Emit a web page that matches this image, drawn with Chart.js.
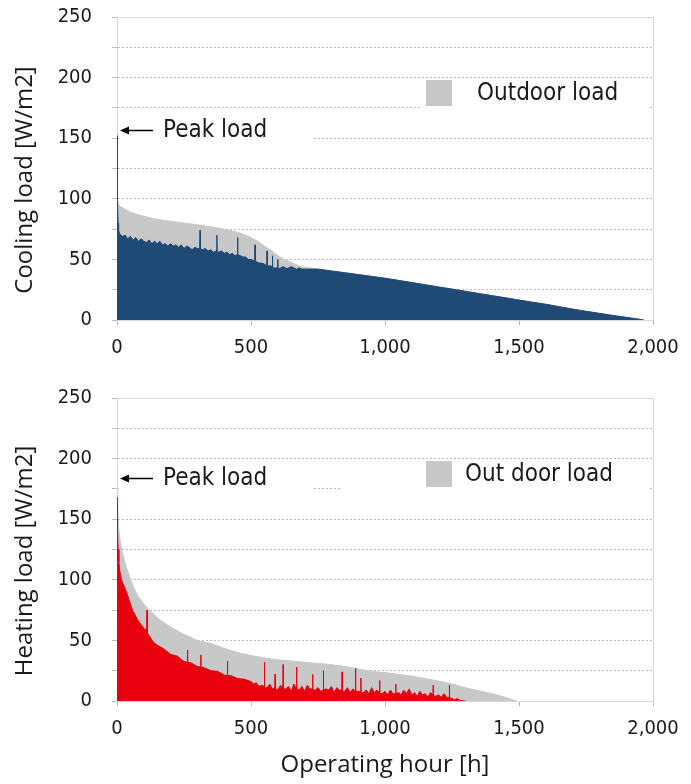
<!DOCTYPE html>
<html>
<head>
<meta charset="utf-8">
<script src="https://cdn.jsdelivr.net/npm/chart.js@4.4.1/dist/chart.umd.min.js"></script>
<style>
  html, body { margin: 0; padding: 0; background: #fff; }
  #wrap { position: relative; width: 691px; height: 784px; }
  .box { position: absolute; left: 0; width: 691px; }
</style>
</head>
<body>
<div id="wrap">
  <div class="box" style="top:0;height:370px"><canvas id="cooling" width="691" height="370"></canvas></div>
  <div class="box" style="top:370px;height:414px"><canvas id="heating" width="691" height="414"></canvas></div>
</div>
<script>
/* ===================== DATA ===================== */

const X_TICKS = [0, 500, 1000, 1500, 2000];
const Y_TICKS = [0, 50, 100, 150, 200, 250];

/* cooling: grey envelope = load incl. outdoor air, blue drawn over it */
const coolTotalHours = [0,1,3,5,10,25,50,75,100,150,200,250,300,350,400,450,480,500,525,550,575,600,625,650,675,700,
  750,800,850,900,950,1000,1050,1100,1150,1200,1250,1300,1350,1400,1450,1500,1550,1600,1650,1700,1750,1800,1850,1900,1950,1965];
const coolTotal = [152,130,100,96,94,92,89,87,85.5,83,81.5,80,78.5,77,75,72.5,70,68,65,61,57.5,53,50,47.5,45,43.5,
  42,40.5,39,37.5,36,34.5,32.7,30.9,29.1,27.3,25.5,23.7,21.9,20.1,18.3,16.5,14.7,13,11,9,7.2,5.5,3.8,2.2,0.6,0];

const coolLoadHours = [
  0,1,2,4,6,10,20,30,40,50,60,70,80,90,100,
  110,120,130,140,150,160,170,180,190,200,
  210,220,230,240,250,260,270,280,290,300,
  309,310,311,320,330,340,350,360,370,372,373,374,380,390,400,
  410,420,430,440,449,450,451,460,470,480,490,500,
  510,514,515,516,520,530,539,540,541,550,559,560,561,570,579,580,581,590,599,600,601,
  610,620,629,630,631,640,650,660,669,670,671,680,690,700,
  750,800,850,900,950,1000,1050,1100,1150,1200,1250,1300,1350,1400,1450,1500,1550,1600,1650,1700,1750,1800,1850,1900,1950,1965];
const coolLoad = [
  152,125,100,80,74,71,69,70,67,69,66,68,65,67,65,
  64,66,63,65,63,65,62,63,61,63,
  61,62,60,62,59,61,60,58,60,59,
  59,74,59,58,59,57,58,56,57,57,70,57,56,57,55,
  56,54,55,53,54,68,54,53,52,52,50,50,
  49,50,62,49,48,47,47,3,47,46,45,57,44,45,44,53,43,43,43,50,42,
  43,44,43,36,42,43,44,43,42,33,42,43,42,42,
  42,40.5,39,37.5,36,34.5,32.7,30.9,29.1,27.3,25.5,23.7,21.9,20.1,18.3,16.5,14.7,13,11,9,7.2,5.5,3.8,2.2,0.6,0];

/* heating */
const heatTotalHours = [0,2,5,10,15,20,30,40,50,60,70,80,90,100,120,140,160,180,200,225,250,275,300,
  350,400,450,500,550,600,650,700,750,800,850,900,950,1000,1050,1100,1150,1200,1250,1300,1350,1400,1450,1490];
const heatTotal = [170,160,145,135,128,122,114,107,100,95,90,86,83,80,75,71,67,64,61,58,55,52.5,50,
  47.5,43.5,40,37.5,35.5,34,33,32,31,30,28.5,26.5,24.5,23.5,22,20.5,18.5,16.5,14,11,8.5,6,3,0];

const heatLoadHours = [
  0,2,4,7,10,15,20,30,40,50,60,70,80,90,100,110,111,112,113,120,134,150,
  175,200,225,250,262,263,264,275,300,312,313,314,325,350,375,400,411,412,413,425,450,475,
  500,510,520,530,540,549,550,551,560,570,580,589,590,591,
  600,610,619,620,621,630,640,650,660,669,670,671,680,690,
  700,710,720,729,730,731,740,750,760,769,770,771,780,790,
  800,810,820,830,839,840,841,850,860,870,880,889,890,891,
  900,909,910,911,920,930,940,950,960,970,979,980,981,990,
  1000,1010,1020,1030,1039,1040,1041,1050,1060,1070,1080,1090,
  1100,1110,1120,1130,1140,1150,1160,1170,1179,1180,1181,1190,
  1200,1210,1220,1230,1239,1240,1241,1250,1260,1270,1280,1300];
const heatLoad = [
  168,140,125,115,108,102,98,93,87,80,74,70,66,63,60,58,57,75,56,54,49,46,
  43,38.5,37,32.5,32,42,32,31.5,28.5,28,38,28,27.5,25,24.5,21.5,21,33,21,21,18.5,18,
  16,14,15,12,13,12,32,11,11,14,10,11,22,10,
  9,13,11,30,10,10,12,8,14,10,28,10,9,12,
  8,13,10,10,22,9,9,11,8,9,25,9,10,9,
  12,7,11,9,9,24,8,8,11,7,10,8,27,8,
  8,8,19,7,7,9,6,11,7,9,7,17,6,6,
  8,5,9,6,6,14,6,7,5,9,6,10,
  5,7,4,8,5,6,3,7,5,13,4,4,
  5,3,6,3,3,13,3,2,1,2,0.5,0];

/* ===================== HELPERS ===================== */

function points(xs, ys) {
  return xs.map((x, i) => ({ x: x, y: ys[i] }));
}

function fmt(v) {
  return Number(v).toLocaleString("en-US");
}

const TEXT = "#1a1a1a";
const TICK_FONT = { family: "'DejaVu Sans', sans-serif", size: 20, weight: "condensed" };
const NOTE_FONT = "condensed 24px 'DejaVu Sans', sans-serif";
const TITLE_FONT = "24px 'Open Sans', sans-serif";

/* ===================== OVERLAY (titles, legend, peak note) ===================== */

const overlay = {
  id: "overlay",
  beforeDatasetsDraw(chart, args, o) {
    const { ctx, chartArea: a, scales: { y } } = chart;
    const py = y.getPixelForValue(o.peakAt);
    ctx.save();
    ctx.fillStyle = "#fff";
    // white patches behind the note and legend, like the original
    ctx.fillRect(a.left + 2, py - 18, 194, 55);
    ctx.fillRect(a.left + o.legendLeft, a.top + 63, a.right - a.left - o.legendLeft - 3, 56);
    ctx.strokeStyle = "#d6d6d6";
    ctx.lineWidth = 1;
    ctx.strokeRect(a.left + 0.5, a.top + 0.5, a.right - a.left, a.bottom - a.top);
    ctx.restore();
  },
  afterDatasetsDraw(chart, args, o) {
    const { ctx, chartArea: a, scales: { y } } = chart;
    const py = Math.round(y.getPixelForValue(o.peakAt)) + 0.5;
    ctx.save();

    // arrow + "Peak load"
    ctx.strokeStyle = "#000";
    ctx.fillStyle = "#000";
    ctx.lineWidth = 1.5;
    ctx.beginPath();
    ctx.moveTo(a.left + 36, py);
    ctx.lineTo(a.left + 10, py);
    ctx.stroke();
    ctx.beginPath();
    ctx.moveTo(a.left + 3, py);
    ctx.lineTo(a.left + 12, py - 4);
    ctx.lineTo(a.left + 12, py + 4);
    ctx.closePath();
    ctx.fill();

    ctx.font = NOTE_FONT;
    ctx.fillStyle = TEXT;
    ctx.textBaseline = "middle";
    ctx.textAlign = "left";
    ctx.fillText(o.peakText, a.left + 46, py);

    // legend
    const ly = a.top + 76;
    ctx.fillStyle = "#c8c8c8";
    ctx.fillRect(a.left + 309, ly - 13, 26, 26);
    ctx.fillStyle = TEXT;
    ctx.fillText(o.legendText, a.left + o.legendTextLeft, ly + 1);

    // y title
    ctx.font = TITLE_FONT;
    ctx.save();
    ctx.translate(25, a.top + 163);
    ctx.rotate(-Math.PI / 2);
    ctx.textAlign = "center";
    ctx.fillText(o.yTitle, 0, 0);
    ctx.restore();

    // x title
    if (o.xTitle) {
      ctx.textAlign = "center";
      ctx.fillText(o.xTitle, (a.left + a.right) / 2, a.bottom + 64);
    }
    ctx.restore();
  }
};

/* ===================== CHARTS ===================== */

function makeChart(canvas, series, opts) {
  return new Chart(canvas, {
    type: "line",
    data: {
      datasets: series.map(s => ({
        label: s.label,
        data: s.data,
        order: s.order,
        backgroundColor: s.color,
        borderColor: s.color,
        borderWidth: 1,
        pointRadius: 0,
        tension: 0,
        fill: "origin"
      }))
    },
    options: {
      responsive: false,
      animation: false,
      devicePixelRatio: 1,
      layout: { padding: { left: 0, right: 38, top: opts.padTop, bottom: 0 } },
      plugins: {
        legend: { display: false },
        tooltip: { enabled: false },
        overlay: opts.overlay
      },
      scales: {
        x: {
          type: "linear",
          min: 0, max: 2000,
          afterFit: s => { s.height = opts.xHeight; },
          afterBuildTicks: s => { s.ticks = X_TICKS.map(v => ({ value: v })); },
          ticks: { font: TICK_FONT, color: TEXT, padding: 11, maxRotation: 0, callback: v => fmt(v) },
          grid: { drawOnChartArea: false, tickLength: 5, color: "#b5b5b5" },
          border: { color: "#b5b5b5" }
        },
        y: {
          min: 0, max: 250,
          afterFit: s => { s.width = 117; s.paddingTop = 0; s.paddingBottom = 0; },
          ticks: { stepSize: 25, font: TICK_FONT, color: TEXT, padding: 20,
                   callback: v => (Y_TICKS.includes(v) ? String(v) : "") },
          grid: { color: "#bdbdbd", tickLength: 5 },
          border: { dash: [2, 2], color: "#b5b5b5" }
        }
      }
    },
    plugins: [overlay]
  });
}

makeChart(document.getElementById("cooling"), [
  { label: "Cooling load", data: points(coolLoadHours, coolLoad), color: "#1f4a75", order: 1 },
  { label: "Outdoor load", data: points(coolTotalHours, coolTotal), color: "#c8c8c8", order: 2 }
], {
  padTop: 17, xHeight: 50,
  overlay: { peakAt: 157, peakText: "Peak load", legendText: "Outdoor load",
             legendLeft: 303, legendTextLeft: 360, yTitle: "Cooling load [W/m2]" }
});

makeChart(document.getElementById("heating"), [
  { label: "Heating load", data: points(heatLoadHours, heatLoad), color: "#e8000f", order: 1 },
  { label: "Out door load", data: points(heatTotalHours, heatTotal), color: "#c8c8c8", order: 2 }
], {
  padTop: 28, xHeight: 83,
  overlay: { peakAt: 184, peakText: "Peak load", legendText: "Out door load",
             legendLeft: 223, legendTextLeft: 348, yTitle: "Heating load [W/m2]",
             xTitle: "Operating hour [h]" }
});
</script>
</body>
</html>
